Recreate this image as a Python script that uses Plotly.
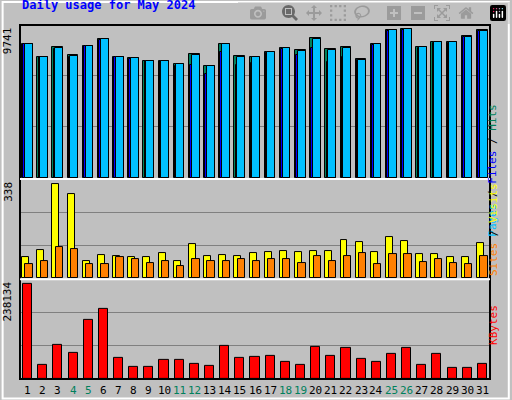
import plotly.graph_objects as go

days = list(range(1, 32))
weekend = [4, 5, 11, 12, 18, 19, 25, 26]
hits = [8532, 7704, 8341, 7831, 8404, 8850, 7704, 7640, 7449, 7449, 7258, 7895, 7131, 8532, 7768, 7704,
        8022, 8277, 8150, 8914, 8213, 8341, 7577, 8532, 9423, 9487, 8341, 8659, 8659, 9041, 9423]
files = [8500, 7680, 8200, 7700, 8380, 8800, 7680, 7600, 7420, 7420, 7150, 7200, 6600, 8000, 7200, 7300,
         7950, 8200, 7800, 8300, 7400, 7700, 7500, 8480, 9380, 9450, 8300, 8600, 8620, 8950, 9350]
pages = [8530, 7700, 8280, 7750, 8400, 8840, 7700, 7620, 7440, 7440, 7250, 7830, 7120, 8520, 7700, 7690,
         8010, 8250, 8090, 8850, 8150, 8280, 7510, 8520, 9410, 9480, 8330, 8650, 8650, 8980, 9360]
visits = [71, 98, 323, 289, 60, 81, 77, 71, 71, 88, 60, 118, 77, 81, 77, 88,
          91, 94, 91, 94, 94, 132, 125, 91, 142, 129, 84, 84, 71, 74, 122]
sites = [50, 60, 108, 101, 50, 50, 71, 64, 53, 60, 40, 67, 60, 60, 64, 60,
         67, 64, 53, 77, 60, 77, 88, 50, 84, 84, 57, 67, 53, 50, 77]
kbytes = [227712, 32874, 80982, 61739, 141117, 167576, 49712, 28063, 28063, 44901, 44901, 35279, 30468,
          78576, 49712, 52117, 54522, 40090, 32874, 76171, 54522, 73766, 47306, 40090, 59333, 73766,
          32874, 59333, 25658, 25658, 35279]
max_hits, max_visits, max_kb = 9741, 338, 238134
title = "Daily usage for May 2024"

FONT = "DejaVu Sans Mono"
fig = go.Figure()

def bar(y, color, off, w, ax):
    fig.add_trace(go.Bar(x=days, y=y, offset=off, width=w, marker=dict(color=color, line=dict(color="black", width=1)),
                         xaxis="x", yaxis=ax, showlegend=False, hoverinfo="skip"))

bar(hits, "#00805C", -0.36, 0.7, "y")
bar(files, "#0000FF", -0.28, 0.62, "y")
bar(pages, "#00C0FF", -0.18, 0.52, "y")
bar(visits, "#FFFF00", -0.36, 0.46, "y2")
bar(sites, "#FF8000", -0.14, 0.48, "y2")
bar(kbytes, "#FF0000", -0.3, 0.6, "y3")

def yax(dom, mx):
    return dict(domain=dom, range=[0, mx], tickvals=[mx / 3, 2 * mx / 3], showticklabels=False,
                gridcolor="#808080", gridwidth=1, zeroline=False, fixedrange=True)

fig.update_layout(
    width=512, height=400, margin=dict(l=20, r=22, t=25, b=21),
    paper_bgcolor="#C0C0C0", plot_bgcolor="#C0C0C0", barmode="overlay", bargap=0,
    xaxis=dict(range=[0.5, 31.5], showticklabels=False, showgrid=False, zeroline=False),
    yaxis=yax([0.568, 1], max_hits), yaxis2=yax([0.285, 0.562], max_visits), yaxis3=yax([0, 0.28], max_kb),
)

ann = []
for d in days:
    ann.append(dict(x=d, y=-0.008, xref="x", yref="paper", yanchor="top", showarrow=False, text=str(d),
                    font=dict(family=FONT, size=11, color="#00805C" if d in weekend else "black")))
ann.append(dict(x=0, y=1.03, xref="paper", yref="paper", xanchor="left", yanchor="bottom", showarrow=False,
                text="<b>%s</b>" % title, font=dict(family=FONT, size=12, color="#0000FF")))
for yv, lab in [(1, max_hits), (0.562, max_visits), (0.28, max_kb)]:
    ann.append(dict(x=-0.008, y=yv, xref="paper", yref="paper", xanchor="right", yanchor="top", textangle=-90,
                    showarrow=False, text=str(lab), font=dict(family=FONT, size=11, color="black")))
right = [
    (0.784, '<span style="color:#00C0FF">Pages</span> / <span style="color:#0000FF">Files</span> / <span style="color:#00805C">Hits</span>'),
    (0.423, '<span style="color:#FF8000">Sites</span> / <span style="color:#FFFF00">Visits</span>'),
    (0.09, '<span style="color:#FF0000">KBytes</span>'),
]
for yv, t in right:
    ann.append(dict(x=1.024, y=yv, xref="paper", yref="paper", textangle=-90, showarrow=False, text=t,
                    font=dict(family=FONT, size=11, color="black")))
fig.update_layout(annotations=ann)

shapes = [
    dict(type="rect", xref="paper", yref="paper", x0=0, x1=1, y0=0, y1=1, line=dict(color="black", width=2)),
    dict(type="line", xref="paper", yref="paper", x0=0, x1=1, y0=0.565, y1=0.565, line=dict(color="white", width=2)),
    dict(type="line", xref="paper", yref="paper", x0=0, x1=1, y0=0.282, y1=0.282, line=dict(color="white", width=2)),
    dict(type="rect", xref="paper", yref="paper", x0=-0.037, x1=1.04, y0=-0.055, y1=1.065,
         line=dict(color="white", width=2)),
]
fig.update_layout(shapes=shapes)
fig.write_html("out.html", post_script="document.body.style.margin='0';document.body.style.overflow='hidden';")
